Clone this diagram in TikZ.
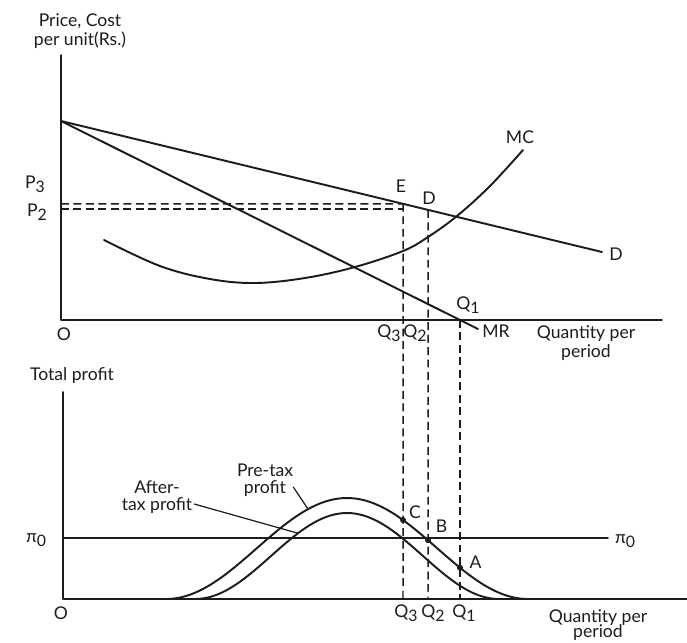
\documentclass[tikz,border=0pt]{standalone}
\usepackage{fontspec}
\setmainfont{Lato}
\usepackage{xcolor}
\usetikzlibrary{arrows.meta,positioning,calc}
\definecolor{ink}{HTML}{1C1C1C}
\tikzset{
    every picture/.style={line cap=round,line join=round},
    axisline/.style={draw=ink,line width=1pt},
    curveline/.style={draw=ink,line width=1.1pt},
    guideline/.style={draw=ink,line width=0.85pt,line cap=butt,
      dash pattern=on 4.5pt off 2.6pt},
    leader/.style={draw=ink,line width=0.7pt},
    lbl/.style={text=ink,font=\normalsize,inner sep=1pt,align=center},
    dotmark/.style={circle,fill=ink,inner sep=0pt,minimum size=3.4pt}
}
\newcommand{\lo}[1]{\raisebox{-0.45ex}{\small #1}}

\begin{document}
\begin{tikzpicture}[x=0.02cm,y=-0.02cm,
    declare function={pre(\u)=599-101*(1+cos((\u-347)/181*180))/2;
                      aft(\u)=599-86*(1+cos((\u-347)/152*180))/2;}]
  \useasboundingbox (0,0) rectangle (687,643);

  % upper panel: price and cost per unit
  \coordinate (ytopA) at (61,55);
  \coordinate (OA) at (61,320);
  \coordinate (xendA) at (662,320);
  \draw[axisline] (ytopA) -- (OA) -- (xendA);
  \coordinate (dstart) at (61,121);
  \coordinate (dend) at (602,252);
  \coordinate (mrend) at (478,329);
  \draw[curveline] (dstart) -- (dend);
  \draw[curveline] (dstart) -- (mrend);
  \draw[curveline] plot[smooth,tension=0.6] coordinates {(104,240) (160,266)
    (210,279) (255,283) (305,278) (355,267) (403,251) (428,237) (457,216)
    (490,186) (523,150)};
  \coordinate (E) at ($(dstart)!0.6322!(dend)$);
  \coordinate (Dpt) at ($(dstart)!0.6784!(dend)$);
  \coordinate (Qone) at (460,320);
  \coordinate (p3end) at (61,203.8);
  \coordinate (p2end) at (61,209);
  \coordinate (p2cut) at (403,209);
  \draw[guideline] (p3end) -- (E);
  \draw[guideline] (p2end) -- (p2cut);

  % lower panel: total profit
  \coordinate (ytopB) at (63,392);
  \coordinate (OB) at (63,599);
  \coordinate (xendB) at (687,599);
  \draw[axisline] (ytopB) -- (OB) -- (xendB);
  \coordinate (pizL) at (63,538);
  \coordinate (pizR) at (608,538);
  \draw[curveline] (pizL) -- (pizR);
  \draw[curveline] plot[domain=166:528,samples=90] (\x,{pre(\x)});
  \draw[curveline] plot[domain=195:499,samples=90] (\x,{aft(\x)});

  \coordinate (Qthree) at (403,599);
  \coordinate (Qtwo) at (428,599);
  \coordinate (Qonelow) at (460,599);
  \draw[guideline] (E) -- (Qthree);
  \draw[guideline] (Dpt) -- (Qtwo);
  \draw[guideline] (Qone) -- (Qonelow);

  \node[dotmark] (C) at (403,{pre(403)}) {};
  \node[dotmark] (B) at (428,{pre(428)}) {};
  \node[dotmark] (A) at (460,{pre(460)}) {};

  % labels, upper panel
  \node[lbl] (yaxA) at (80,31) {Price, Cost\\[-1.5pt]per unit(Rs.)};
  \node[lbl] (pthree) at (35,184) {P\lo{3}};
  \node[lbl] (ptwo) at (37,212) {P\lo{2}};
  \node[lbl] (oA) at (64,334) {O};
  \node[lbl] (lE) at (401,186) {E};
  \node[lbl] (lD) at (429,198) {D};
  \node[lbl] (lMC) at (520,137) {MC};
  \node[lbl] (lDend) at (616,254) {D};
  \node[lbl] (lQone) at (468,305) {Q\lo{1}};
  \node[lbl] (lMR) at (496,331) {MR};
  \node[lbl] (lQthreeA) at (389,333) {Q\lo{3}};
  \node[lbl] (lQtwoA) at (415,333) {Q\lo{2}};
  \node[lbl] (xaxA) at (586,343) {Quantity per\\[-1.5pt]period};

  % labels, lower panel
  \node[lbl] (yaxB) at (72,376) {Total profit};
  \node[lbl] (oB) at (61,613) {O};
  \node[lbl] (pizLl) at (36,540) {π\lo{0}};
  \node[lbl] (pizRl) at (625,541) {π\lo{0}};
  \node[lbl,above right=-2pt and 1pt of C] {C};
  \node[lbl,above right=2pt and 2pt of B] {B};
  \node[lbl,above right=-3pt and 3pt of A] {A};
  \node[lbl] (lQthreeB) at (406,613) {Q\lo{3}};
  \node[lbl] (lQtwoB) at (433,613) {Q\lo{2}};
  \node[lbl] (lQoneB) at (464,613) {Q\lo{1}};
  \node[lbl] (xaxB) at (598,625) {Quantity per\\[-3pt]period};

  \node[lbl] (pretax) at (265,480) {Pre-tax\\[-2.5pt]profit};
  \node[lbl] (aftertax) at (157,497) {After-\\[-2.5pt]tax profit};
  \coordinate (pretaxhit) at (308,{pre(308)});
  \coordinate (aftertaxhit) at (298,{aft(298)});
  \draw[leader] ([xshift=-1pt,yshift=-4pt]pretax.east) -- (pretaxhit);
  \draw[leader] ([yshift=-4pt]aftertax.east) -- (aftertaxhit);
\end{tikzpicture}
\end{document}
